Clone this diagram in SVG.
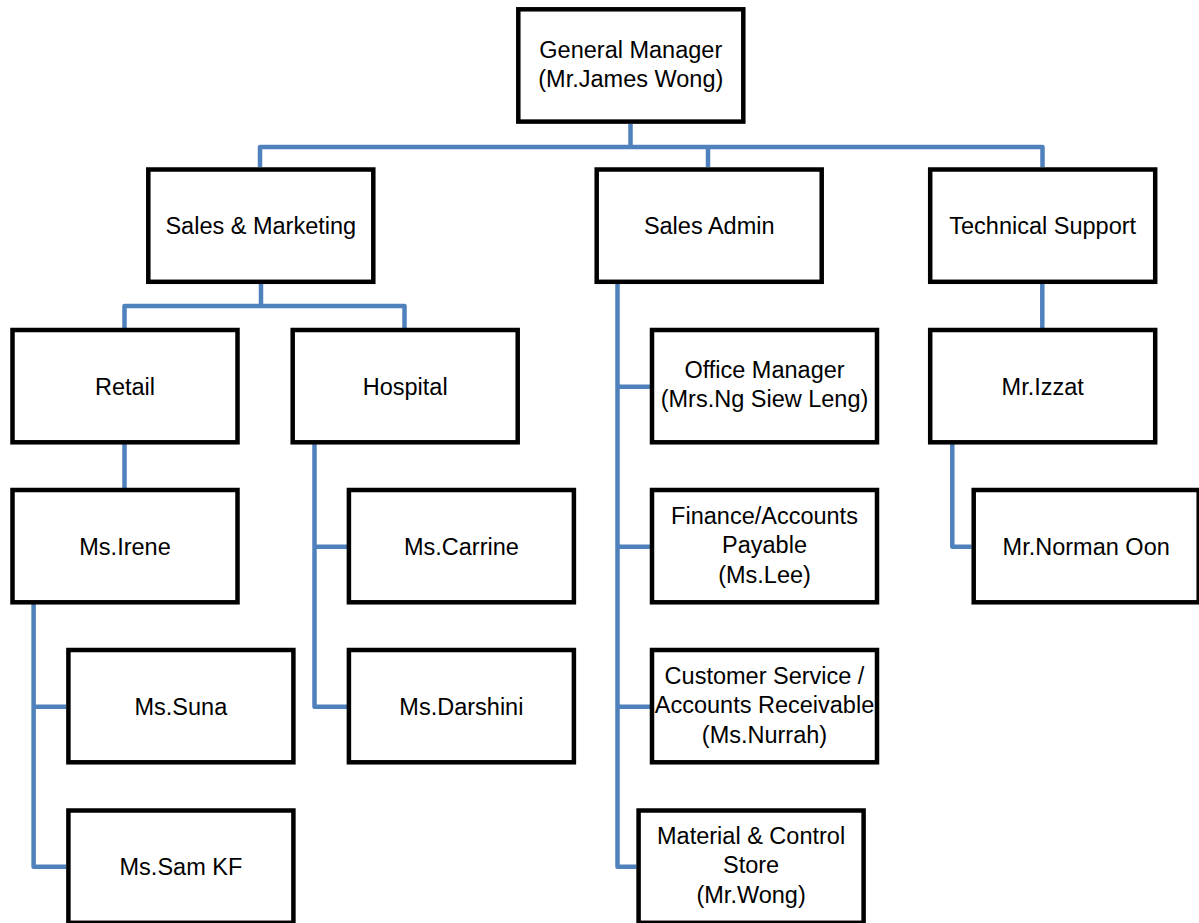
<svg xmlns="http://www.w3.org/2000/svg" width="1199" height="923" viewBox="0 0 1199 923">
<style>
.box{fill:#fff;stroke:#000;stroke-width:4.5}
.lbl{font-family:"Liberation Sans",Arial,sans-serif;font-size:23.5px;fill:#000;text-anchor:middle}
.con{fill:none;stroke:#4F81BD;stroke-width:4.5;stroke-linejoin:round;stroke-linecap:butt}
</style>
<rect width="1199" height="923" fill="#fff"/>
<g id="connectors">
<path class="con" d="M630.5 124 V147"/>
<path class="con" d="M260 167 V147 H1042.5 V167"/>
<path class="con" d="M708 147 V167"/>
<path class="con" d="M261 284 V306"/>
<path class="con" d="M124.5 328 V306 H404.5 V328"/>
<path class="con" d="M124.5 444 V488"/>
<path class="con" d="M314.5 444 V706.7 H347"/>
<path class="con" d="M314.5 546.7 H347"/>
<path class="con" d="M33.6 604 V866.7 H66"/>
<path class="con" d="M33.6 706.7 H66"/>
<path class="con" d="M617.5 284 V866.7 H636.5"/>
<path class="con" d="M617.5 386.7 H650"/>
<path class="con" d="M617.5 546.7 H650"/>
<path class="con" d="M617.5 706.7 H650"/>
<path class="con" d="M1042.3 284 V328"/>
<path class="con" d="M952.3 444 V546.7 H971.5"/>
</g>
<g id="gm"><rect class="box" x="518.3" y="9.3" width="225" height="112.3"/><text class="lbl" x="630.8" y="58">General Manager</text><text class="lbl" x="630.8" y="87">(Mr.James Wong)</text></g>
<g id="sales-marketing"><rect class="box" x="148.3" y="169.5" width="225" height="112.3"/><text class="lbl" x="260.8" y="234">Sales &amp; Marketing</text></g>
<g id="sales-admin"><rect class="box" x="596.7" y="169.5" width="225" height="112.3"/><text class="lbl" x="709.2" y="234">Sales Admin</text></g>
<g id="tech-support"><rect class="box" x="930.2" y="169.5" width="225" height="112.3"/><text class="lbl" x="1042.7" y="234">Technical Support</text></g>
<g id="retail"><rect class="box" x="12.5" y="330" width="225" height="112.3"/><text class="lbl" x="125" y="394.5">Retail</text></g>
<g id="hospital"><rect class="box" x="292.7" y="330" width="225" height="112.3"/><text class="lbl" x="405.2" y="394.5">Hospital</text></g>
<g id="office-manager"><rect class="box" x="652" y="330" width="225" height="112.3"/><text class="lbl" x="764.5" y="378">Office Manager</text><text class="lbl" x="764.5" y="407">(Mrs.Ng Siew Leng)</text></g>
<g id="izzat"><rect class="box" x="930.2" y="330" width="225" height="112.3"/><text class="lbl" x="1042.7" y="394.5">Mr.Izzat</text></g>
<g id="irene"><rect class="box" x="12.5" y="490" width="225" height="112.3"/><text class="lbl" x="125" y="554.5">Ms.Irene</text></g>
<g id="carrine"><rect class="box" x="348.9" y="490" width="225" height="112.3"/><text class="lbl" x="461.4" y="554.5">Ms.Carrine</text></g>
<g id="finance"><rect class="box" x="652" y="490" width="225" height="112.3"/><text class="lbl" x="764.5" y="524">Finance/Accounts</text><text class="lbl" x="764.5" y="553">Payable</text><text class="lbl" x="764.5" y="582.5">(Ms.Lee)</text></g>
<g id="norman"><rect class="box" x="973.7" y="490" width="225" height="112.3"/><text class="lbl" x="1086.2" y="554.5">Mr.Norman Oon</text></g>
<g id="suna"><rect class="box" x="68.4" y="650" width="225" height="112.3"/><text class="lbl" x="180.9" y="714.5">Ms.Suna</text></g>
<g id="darshini"><rect class="box" x="348.9" y="650" width="225" height="112.3"/><text class="lbl" x="461.4" y="714.5">Ms.Darshini</text></g>
<g id="customer-service"><rect class="box" x="652" y="650" width="225" height="112.3"/><text class="lbl" x="764.5" y="684">Customer Service /</text><text class="lbl" x="764.5" y="713">Accounts Receivable</text><text class="lbl" x="764.5" y="742.5">(Ms.Nurrah)</text></g>
<g id="sam"><rect class="box" x="68.4" y="810.5" width="225" height="112.3"/><text class="lbl" x="180.9" y="875">Ms.Sam KF</text></g>
<g id="material"><rect class="box" x="638.6" y="810.5" width="225" height="112.3"/><text class="lbl" x="751.1" y="843.5">Material &amp; Control</text><text class="lbl" x="751.1" y="873">Store</text><text class="lbl" x="751.1" y="902.5">(Mr.Wong)</text></g>
</svg>
